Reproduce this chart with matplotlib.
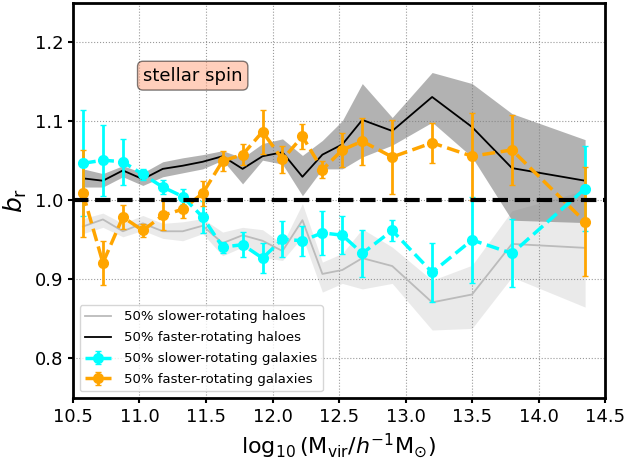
import matplotlib
matplotlib.use('Agg')
import matplotlib.pyplot as plt

# halo mass bins
mass = [10.575, 10.725, 10.875, 11.025, 11.175, 11.325, 11.475, 11.625, 11.775, 11.925,
        12.075, 12.225, 12.375, 12.525, 12.675, 12.9, 13.2, 13.5, 13.8, 14.35]

# haloes split by spin
halo_slow = [0.967, 0.976, 0.961, 0.971, 0.961, 0.961, 0.968, 0.946, 0.956, 0.949,
             0.936, 0.975, 0.907, 0.912, 0.927, 0.917, 0.871, 0.881, 0.945, 0.940]
halo_slow_lo = [0.958, 0.966, 0.954, 0.962, 0.952, 0.949, 0.958, 0.930, 0.941, 0.928,
                0.924, 0.954, 0.884, 0.895, 0.888, 0.895, 0.836, 0.838, 0.903, 0.865]
halo_slow_hi = [0.977, 0.984, 0.971, 0.981, 0.971, 0.973, 0.977, 0.960, 0.966, 0.963,
                0.945, 0.996, 0.922, 0.933, 0.964, 0.941, 0.899, 0.918, 0.987, 1.013]

halo_fast = [1.028, 1.025, 1.038, 1.027, 1.040, 1.044, 1.049, 1.056, 1.040, 1.056,
             1.061, 1.030, 1.058, 1.071, 1.102, 1.088, 1.131, 1.093, 1.041, 1.025]
halo_fast_lo = [1.017, 1.017, 1.030, 1.019, 1.030, 1.035, 1.040, 1.051, 1.021, 1.051,
                1.046, 1.006, 1.040, 1.040, 1.055, 1.070, 1.099, 1.055, 0.975, 0.972]
halo_fast_hi = [1.040, 1.034, 1.044, 1.035, 1.049, 1.054, 1.058, 1.063, 1.054, 1.072,
                1.078, 1.057, 1.076, 1.101, 1.148, 1.105, 1.162, 1.148, 1.110, 1.077]

# galaxies split by stellar spin
gal_slow = [1.047, 1.051, 1.049, 1.033, 1.017, 1.005, 0.979, 0.941, 0.944, 0.927,
            0.951, 0.949, 0.959, 0.956, 0.933, 0.962, 0.909, 0.950, 0.933, 1.015]
gal_slow_err = [0.067, 0.045, 0.029, 0.007, 0.009, 0.010, 0.020, 0.007, 0.016, 0.019,
                0.023, 0.019, 0.028, 0.024, 0.030, 0.013, 0.037, 0.055, 0.043, 0.054]

gal_fast = [1.009, 0.921, 0.979, 0.962, 0.981, 0.989, 1.009, 1.050, 1.058, 1.087,
            1.052, 1.081, 1.039, 1.064, 1.075, 1.055, 1.073, 1.056, 1.064, 0.973]
gal_fast_err = [0.055, 0.028, 0.015, 0.008, 0.019, 0.011, 0.016, 0.013, 0.013, 0.028,
                0.017, 0.016, 0.011, 0.022, 0.030, 0.047, 0.025, 0.055, 0.044, 0.069]

fig = plt.figure(figsize=(6.27, 4.59), dpi=100)
ax = fig.add_axes([0.1164, 0.133, 0.8486, 0.8605])

ax.fill_between(mass, halo_slow_lo, halo_slow_hi, color='grey', alpha=0.16, lw=0)
ax.fill_between(mass, halo_fast_lo, halo_fast_hi, color='grey', alpha=0.6, lw=0)
ax.plot(mass, halo_slow, color='#bbbbbb', lw=1.3, label='50% slower-rotating haloes')
ax.plot(mass, halo_fast, color='black', lw=1.3, label='50% faster-rotating haloes')

ax.errorbar(mass, gal_slow, yerr=gal_slow_err, color='cyan', fmt='o', ls='--', lw=2.5,
            ms=7, elinewidth=2, capsize=2, label='50% slower-rotating galaxies')
ax.errorbar(mass, gal_fast, yerr=gal_fast_err, color='orange', fmt='o', ls='--', lw=2.5,
            ms=7, elinewidth=2, capsize=2, label='50% faster-rotating galaxies')

ax.axhline(1.0, color='black', ls='--', lw=3, zorder=5)

ax.text(11.4, 1.158, 'stellar spin', fontsize=13, ha='center', va='center',
        bbox=dict(boxstyle='round', facecolor='lightsalmon', alpha=0.5))

ax.set_xlim(10.5, 14.5)
ax.set_ylim(0.75, 1.25)
ax.set_xticks([10.5, 11.0, 11.5, 12.0, 12.5, 13.0, 13.5, 14.0, 14.5])
ax.set_yticks([0.8, 0.9, 1.0, 1.1, 1.2])
ax.grid(True, ls=':', color='grey', alpha=0.8, lw=0.8)
ax.tick_params(labelsize=13, width=1.5)
for s in ax.spines.values():
    s.set_linewidth(2)

ax.set_xlabel(r'$\log_{10}({\rm M_{vir}}/h^{-1}{\rm M_{\odot}})$', fontsize=16)
ax.set_ylabel(r'$b_{\rm r}$', fontsize=18)
ax.legend(loc='lower left', fontsize=9.5, labelspacing=0.6, handletextpad=1.0)

fig.savefig('out.png', dpi=100)
